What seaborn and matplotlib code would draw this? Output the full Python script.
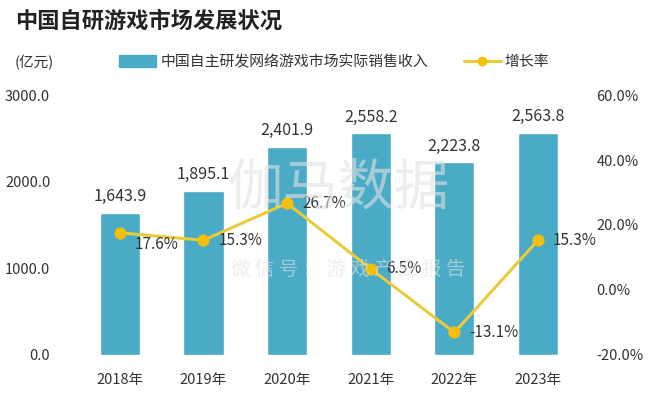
import matplotlib
matplotlib.use("Agg")
import matplotlib.pyplot as plt
import numpy as np
import pandas as pd
import seaborn as sns
from matplotlib.lines import Line2D
from matplotlib.patches import Patch

# data
years = ["2018年", "2019年", "2020年", "2021年", "2022年", "2023年"]
revenue = [1643.9, 1895.1, 2401.9, 2558.2, 2223.8, 2563.8]
growth = [17.6, 15.3, 26.7, 6.5, -13.1, 15.3]
left_ticks = [0, 1000, 2000, 3000]
right_ticks = [-20, 0, 20, 40, 60]

BAR = "#4AABC6"
LINE = "#E9CB3C"
MARK = "#F5BF0C"
TXT = "#333333"

sns.set_theme(style="white")
plt.rcParams["font.family"] = ["Noto Sans CJK SC", "DejaVu Sans"]

df = pd.DataFrame({"year": years, "revenue": revenue, "growth": growth,
                   "pos": np.arange(len(years))})

fig = plt.figure(figsize=(6.5, 3.93), dpi=100)
ax = fig.add_axes([0.12, 0.097, 0.772, 0.661])

sns.barplot(data=df, x="year", y="revenue", color=BAR, width=0.48,
            saturation=1, ax=ax)
ax.set_ylim(0, 3000)
ax.set_xlim(-0.5, len(years) - 0.5)
ax.set_yticks(left_ticks)
ax.set_yticklabels([f"{v:.1f}" for v in left_ticks], fontsize=10.5, color=TXT)
ax.tick_params(axis="x", labelsize=10.5, colors=TXT, length=0, pad=13)
ax.tick_params(axis="y", length=0, pad=20)
ax.set_xlabel("")
ax.set_ylabel("")
for s in ax.spines.values():
    s.set_visible(False)

for i, v in enumerate(revenue):
    ax.text(i, v + 90, f"{v:,.1f}", ha="center", va="bottom",
            fontsize=11.5, color=TXT)

ax2 = ax.twinx()
sns.lineplot(data=df, x="pos", y="growth", color=LINE, lw=2.2,
             marker="o", markersize=8, markerfacecolor=MARK,
             markeredgecolor=MARK, ax=ax2)
ax2.set_ylim(-20, 60)
ax2.set_yticks(right_ticks)
ax2.set_yticklabels([f"{v:.1f}%" for v in right_ticks], fontsize=10.5, color=TXT)
ax2.tick_params(axis="y", length=0, pad=12)
ax2.set_ylabel("")
ax2.set_xlabel("")
for s in ax2.spines.values():
    s.set_visible(False)

for i, g in enumerate(growth):
    dy = -3.5 if i == 0 else 0
    ax2.text(i + 0.18, g + dy, f"{g:.1f}%", ha="left", va="center",
             fontsize=11, color=TXT)

# watermark
fig.text(0.52, 0.52, "伽马数据", ha="center", va="center", fontsize=40,
         color="#e2e2e2", alpha=0.6, zorder=0)
fig.text(0.535, 0.315, "微 信 号 ： 游 戏 产 业 报 告", ha="center",
         va="center", fontsize=14, color="#e2e2e2", alpha=0.6, zorder=0)

# title and unit
fig.text(0.023, 0.945, "中国自研游戏市场发展状况", fontsize=16,
         fontweight="bold", color="#222222", va="center")
fig.text(0.023, 0.842, "(亿元)", fontsize=10.5, color=TXT, va="center")

handles = [Patch(facecolor=BAR, edgecolor=BAR),
           Line2D([], [], color=LINE, lw=2.2, marker="o", markersize=6,
                  markerfacecolor=MARK, markeredgecolor=MARK)]
labels = ["中国自主研发网络游戏市场实际销售收入", "增长率"]
fig.legend(handles, labels, loc="center left", bbox_to_anchor=(0.163, 0.842),
           ncol=2, frameon=False, fontsize=10.7, handlelength=2.5,
           handleheight=0.8, handletextpad=0.25, columnspacing=2.4,
           labelcolor=TXT)

fig.savefig("out.png", dpi=100)
